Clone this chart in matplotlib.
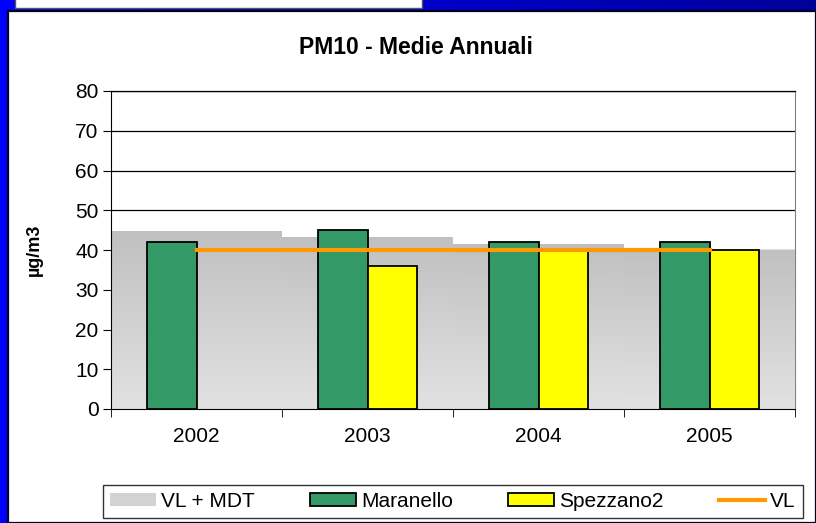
import numpy as np
import matplotlib
matplotlib.use("Agg")
import matplotlib.pyplot as plt
from matplotlib.patches import Rectangle, Patch
from matplotlib.lines import Line2D
from matplotlib.colors import LinearSegmentedColormap

plt.rcParams['font.family'] = ['Liberation Sans', 'DejaVu Sans']

years = ['2002', '2003', '2004', '2005']
vl_mdt = [44.8, 43.2, 41.6, 40.0]      # limit value + margin of tolerance
maranello = [42, 45, 42, 42]
spezzano2 = [np.nan, 36, 40, 40]
vl = [40, 40, 40, 40]

W, H = 816, 523
fig = plt.figure(figsize=(W / 100, H / 100), dpi=100)
fig.patch.set_facecolor('white')

# slide frame (blue border, top bar, white box)
bg = fig.add_axes([0, 0, 1, 1], zorder=-10)
bg.set_xlim(0, W)
bg.set_ylim(H, 0)
bg.axis('off')
grad = np.linspace(0, 1, 256).reshape(1, -1)
bluecm = LinearSegmentedColormap.from_list('b', ['#0000ff', '#000099'])
bg.imshow(grad, cmap=bluecm, extent=[0, W, 10, 0], aspect='auto')
bg.add_patch(Rectangle((0, 0), 8, H, color='#0000ff', lw=0))
bg.add_patch(Rectangle((8, 11), W - 8, H - 11, facecolor='white', edgecolor='#000022', lw=1.6))
bg.add_patch(Rectangle((15, -2), 407, 9.5, facecolor='white', edgecolor='#555555', lw=1))

ax = fig.add_axes([111 / W, 1 - 409 / H, (795 - 111) / W, (409 - 91) / H])
x = np.arange(len(years))

# VL + MDT grey gradient steps
bars = ax.bar(x, vl_mdt, width=1.0, color='#cccccc', lw=0, zorder=1)
vgrad = np.linspace(0, 1, 256).reshape(-1, 1)
greycm = LinearSegmentedColormap.from_list('g', ['#c0c0c0', '#e2e2e2'])
for b in bars:
    b.set_facecolor('none')
    im = ax.imshow(vgrad, cmap=greycm, aspect='auto', zorder=1,
                   extent=[b.get_x(), b.get_x() + b.get_width(), 0, b.get_height()])
    im.set_clip_path(b)

bw = 0.29
ax.bar(x - bw / 2, maranello, width=bw, color='#339966', edgecolor='black', lw=1.3, zorder=3)
ax.bar(x + bw / 2, spezzano2, width=bw, color='#ffff00', edgecolor='black', lw=1.3, zorder=3)
ax.plot(x, vl, color='#ff9900', lw=3, zorder=4)

ax.set_xlim(-0.5, len(years) - 0.5)
ax.set_ylim(0, 80)
ax.set_yticks(np.arange(0, 81, 10))
ax.yaxis.grid(True, color='black', lw=0.9)
ax.set_axisbelow(True)
ax.set_xticks(x)
ax.set_xticklabels(years)
ax.set_xticks(np.arange(-0.5, len(years)), minor=True)
ax.tick_params(axis='x', which='major', length=0, pad=13, labelsize=15)
ax.tick_params(axis='x', which='minor', length=6, direction='out', color='black')
ax.tick_params(axis='y', length=6, direction='out', pad=3, labelsize=15)
ax.spines['left'].set_zorder(5)
ax.spines['bottom'].set_zorder(5)
ax.spines['right'].set_color('#808080')
ax.spines['right'].set_zorder(0.8)
ax.spines['top'].set_color('black')
ax.spines['top'].set_linewidth(0.9)

ax.set_ylabel('µg/m3', fontsize=13, fontweight='bold', labelpad=23)
fig.text(416 / W, 1 - 47 / H, 'PM10 - Medie Annuali', ha='center', va='center',
         fontsize=16.5, fontweight='bold')

handles = [Patch(facecolor='#d2d2d2', edgecolor='none'),
           Patch(facecolor='#339966', edgecolor='black', lw=1.3),
           Patch(facecolor='#ffff00', edgecolor='black', lw=1.3),
           Line2D([], [], color='#ff9900', lw=3)]
labels = ['VL + MDT', 'Maranello', 'Spezzano2', 'VL']
leg = fig.legend(handles, labels, ncol=4, loc='center',
                 bbox_to_anchor=(453 / W, 1 - 501.5 / H), fontsize=15,
                 frameon=True, fancybox=False, edgecolor='black',
                 handlelength=2.2, handleheight=0.6, columnspacing=2.65,
                 handletextpad=0.25, borderpad=0.35)
leg.get_frame().set_linewidth(1)

fig.savefig('out.png', dpi=100)
